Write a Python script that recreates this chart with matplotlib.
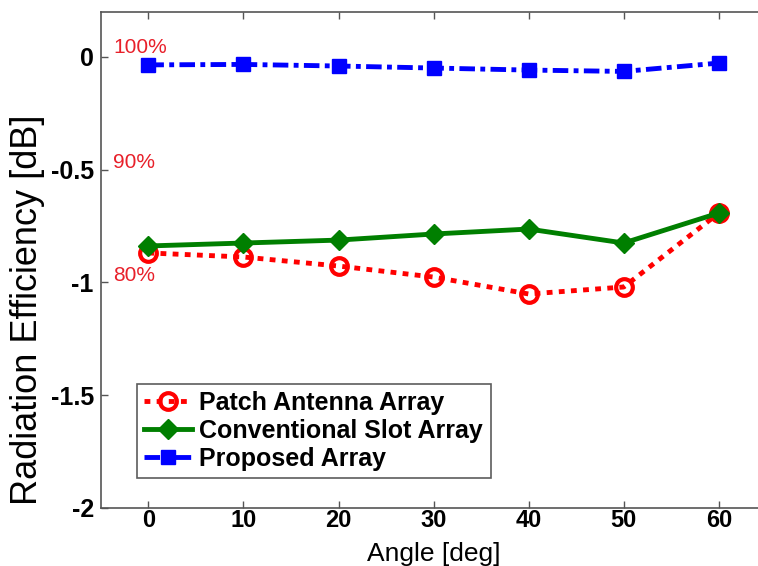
import matplotlib.pyplot as plt

angle = [0, 10, 20, 30, 40, 50, 60]
patch = [-0.869, -0.887, -0.927, -0.976, -1.051, -1.02, -0.692]
slot = [-0.838, -0.825, -0.812, -0.785, -0.763, -0.825, -0.692]
proposed = [-0.035, -0.033, -0.040, -0.049, -0.058, -0.064, -0.027]

pct_labels = ['100%', '90%', '80%']
pct_y = [0.04, -0.47, -0.97]

plt.rcParams['font.family'] = ['Liberation Sans', 'DejaVu Sans']

fig = plt.figure(figsize=(7.58, 5.66), dpi=100)
ax = fig.add_axes([0.133, 0.1025, 0.878, 0.8765])

ax.plot(angle, patch, color='#ff0000', linewidth=3.5, dashes=(1.2, 1.3),
        dash_capstyle='butt',
        marker='o', markersize=12, markerfacecolor='none', markeredgewidth=3,
        label='Patch Antenna Array')
ax.plot(angle, slot, color='#007f00', linestyle='-', linewidth=3.5,
        marker='D', markersize=10, label='Conventional Slot Array')
ax.plot(angle, proposed, color='#0000ff', linewidth=3.5,
        marker='s', markersize=10, label='Proposed Array',
        dashes=(3.2, 1.1, 1.0, 1.1), dash_capstyle='butt')

for lab, yy in zip(pct_labels, pct_y):
    ax.text(-3.7, yy, lab, color='#e8202a', fontsize=15,
            va='center', ha='left')

ax.set_xlim(-5, 65)
ax.set_ylim(-2, 0.2)
ax.set_xticks(angle)
ax.set_yticks([-2, -1.5, -1, -0.5, 0])
ax.set_yticklabels(['-2', '-1.5', '-1', '-0.5', '0'])
ax.tick_params(direction='in', top=True, right=True, length=5, width=1,
               color='#555555')
ax.tick_params(axis='x', labelsize=17, pad=1)
ax.tick_params(axis='y', labelsize=18, pad=5)
for lab in ax.get_xticklabels() + ax.get_yticklabels():
    lab.set_fontweight('bold')
for sp in ax.spines.values():
    sp.set_color('#555555')
    sp.set_linewidth(1.2)

ax.set_xlabel('Angle [deg]', fontsize=19, va='bottom')
ax.xaxis.set_label_coords(0.5, -0.116)
ax.set_ylabel('Radiation Efficiency [dB]', fontsize=26)
ax.yaxis.set_label_coords(-0.084, 0.4)

leg = ax.legend(loc='lower left', bbox_to_anchor=(0.054, 0.06),
                borderaxespad=0,
                prop={'weight': 'bold', 'size': 18}, frameon=True,
                fancybox=False, edgecolor='#333333', borderpad=0.3,
                handlelength=1.9, labelspacing=0.15, handletextpad=0.3)
leg.get_frame().set_linewidth(1.2)

fig.savefig('out.png', dpi=100)
